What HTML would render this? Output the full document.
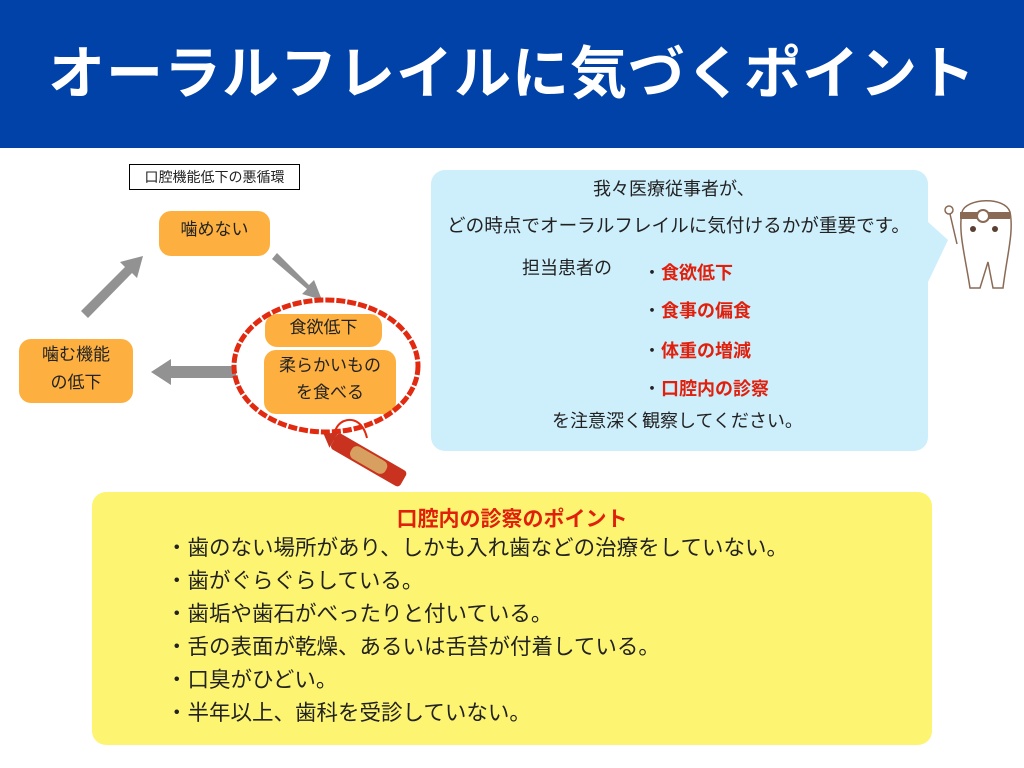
<!DOCTYPE html>
<html><head><meta charset="utf-8"><style>
body{margin:0;width:1024px;height:768px;position:relative;background:#fff;font-family:"Liberation Sans","Noto Sans CJK JP",sans-serif;overflow:hidden}
.a{position:absolute}
.title{left:0;top:0;width:1024px;height:148px;background:#0042a8;color:#fff;font-size:57px;font-weight:bold;text-align:center;line-height:148px;letter-spacing:1px}
.ob{background:#fdb03f;border-radius:12px;text-align:center;font-size:17px;color:#222;line-height:26px}
.t{font-size:18px;color:#222;white-space:nowrap}
.r{color:#e0200c;font-weight:bold}
</style></head><body>
<div class="a title">オーラルフレイルに気づくポイント</div>

<div class="a t" style="left:129px;top:164px;width:169px;height:24px;border:1px solid #000;font-size:14px;line-height:24px;text-align:center">口腔機能低下の悪循環</div>
<div class="a ob" style="left:159px;top:211px;width:111px;height:45px;line-height:38px">噛めない</div>
<div class="a ob" style="left:19px;top:339px;width:114px;height:64px;line-height:28px;padding-top:2px;box-sizing:border-box">噛む機能<br>の低下</div>
<div class="a ob" style="left:265px;top:314px;width:117px;height:33px;line-height:28px">食欲低下</div>
<div class="a ob" style="left:264px;top:350px;width:132px;height:64px;line-height:27px;padding-top:2px;box-sizing:border-box">柔らかいもの<br>を食べる</div>

<svg class="a" style="left:0;top:0" width="1024" height="768">
<g fill="#929292" stroke="none">
<polygon points="81,311 125,267 120,262 143,256 137,278 132,273 88,318"/>
<polygon points="277,253 309,285 314,280 322,300 302,294 307,289 272,259"/>
<polygon points="236,366 171,366 171,359 151,372 171,385 171,378 236,378"/>
</g>
<ellipse cx="326" cy="366" rx="92" ry="66" fill="none" stroke="#e12a10" stroke-width="5" stroke-dasharray="9 2"/>
<path d="M335,440 C330,420 360,408 367,438" fill="none" stroke="#e12a10" stroke-width="2"/>
<g transform="translate(334,440) rotate(30)">
<rect x="0" y="-9" width="80" height="18" rx="4" fill="#c8321e"/>
<rect x="20" y="-7" width="40" height="14" rx="6" fill="#d8a060"/>
<polygon points="0,-9 -12,0 0,9" fill="#c8321e"/>
</g>
<path d="M928,222 L948,240 L928,282 Z" fill="#cdeefb"/>
<g fill="#fff" stroke="#8a6a55" stroke-width="1.5">
<path d="M962,212 C966,198 1005,196 1010,212 C1014,232 1007,255 1003,288 L993,288 L988,262 L980,288 L970,288 C965,255 958,232 962,212 Z"/>
<circle cx="949" cy="210" r="4"/>
<line x1="950" y1="214" x2="957" y2="244"/>
</g>
<rect x="960" y="212" width="50" height="7" fill="#8a6a55"/>
<circle cx="983" cy="216" r="6" fill="#fff" stroke="#8a6a55" stroke-width="2"/>
<circle cx="973" cy="229" r="3" fill="#5a4030"/><circle cx="995" cy="229" r="3" fill="#5a4030"/>
</svg>

<div class="a" style="left:431px;top:170px;width:497px;height:281px;background:#cdeefb;border-radius:14px"></div>
<div class="a t" style="left:593px;top:175px">我々医療従事者が、</div>
<div class="a t" style="left:447px;top:211px;font-size:18.6px">どの時点でオーラルフレイルに気付けるかが重要です。</div>
<div class="a t" style="left:522px;top:254px">担当患者の</div>
<div class="a t" style="left:643px;top:259px">・<span class="r">食欲低下</span></div>
<div class="a t" style="left:643px;top:297px">・<span class="r">食事の偏食</span></div>
<div class="a t" style="left:643px;top:337px">・<span class="r">体重の増減</span></div>
<div class="a t" style="left:643px;top:375px">・<span class="r">口腔内の診察</span></div>
<div class="a t" style="left:552px;top:407px">を注意深く観察してください。</div>

<div class="a" style="left:92px;top:492px;width:840px;height:253px;background:#fdf571;border-radius:14px"></div>
<div class="a t r" style="left:0;top:503px;width:1024px;text-align:center;font-size:21px">口腔内の診察のポイント</div>
<div class="a t" style="left:166px;top:532px;font-size:21.5px;line-height:33px">・歯のない場所があり、しかも入れ歯などの治療をしていない。<br>・歯がぐらぐらしている。<br>・歯垢や歯石がべったりと付いている。<br>・舌の表面が乾燥、あるいは舌苔が付着している。<br>・口臭がひどい。<br>・半年以上、歯科を受診していない。</div>
</body></html>
